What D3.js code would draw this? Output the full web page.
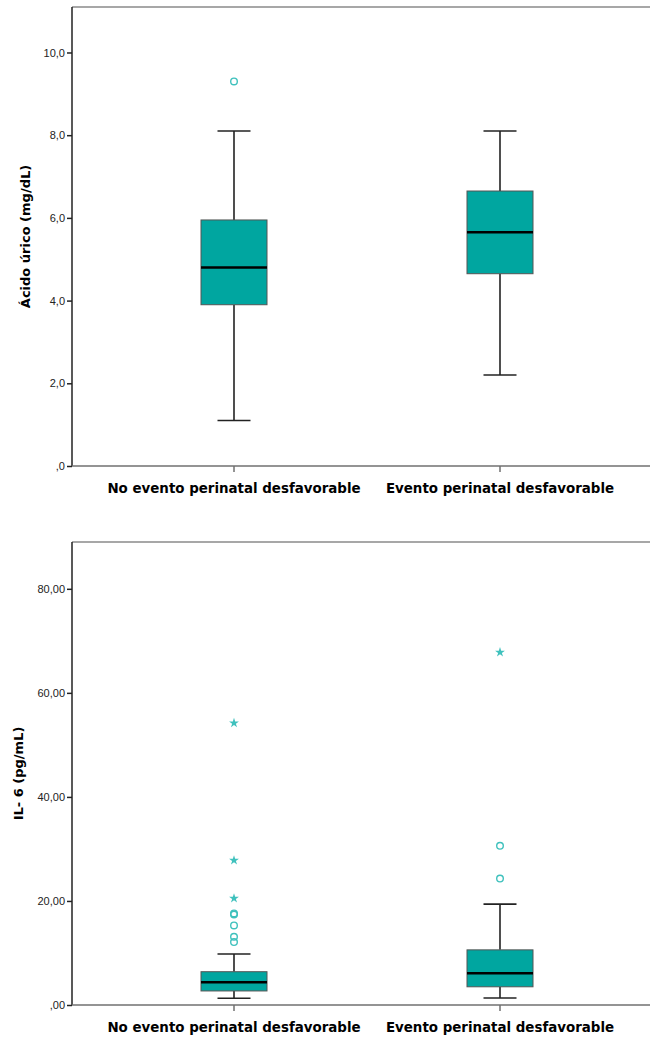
<!DOCTYPE html>
<html>
<head>
<meta charset="utf-8">
<script src="https://cdn.jsdelivr.net/npm/d3@7"></script>
<style>
  body { margin: 0; background: #fff; }
  svg { display: block; font-family: "Liberation Sans", Arial, sans-serif; }
  .tick-label { font-size: 11px; fill: #222; }
  .cat-label { font-family: "DejaVu Sans", Verdana, sans-serif; font-size: 13.4px; font-weight: bold; fill: #000; }
  .axis-title { font-family: "DejaVu Sans", Verdana, sans-serif; font-size: 13px; font-weight: bold; fill: #000; }
</style>
</head>
<body>
<svg id="chart" width="650" height="1037"></svg>
<script>
const categories = ["No evento perinatal desfavorable", "Evento perinatal desfavorable"];

// Ácido úrico (mg/dL): [lowWhisker, q1, median, q3, highWhisker]
const uricStats = [
  [1.1, 3.9, 4.8, 5.95, 8.1],
  [2.2, 4.65, 5.65, 6.65, 8.1]
];
const uricOutliers = [[9.3], []];
const uricExtremes = [[], []];
const uricTicks = [0, 2, 4, 6, 8, 10];
const uricTickLabels = [",0", "2,0", "4,0", "6,0", "8,0", "10,0"];

// IL-6 (pg/mL)
const il6Stats = [
  [1.3, 2.7, 4.35, 6.4, 9.8],
  [1.35, 3.5, 6.1, 10.6, 19.4]
];
const il6Outliers = [[17.4, 17.6, 15.3, 13.1, 12.1], [30.6, 24.3]];
const il6Extremes = [[54.2, 27.8, 20.5], [67.8]];
const il6Ticks = [0, 20, 40, 60, 80];
const il6TickLabels = [",00", "20,00", "40,00", "60,00", "80,00"];

const svg = d3.select("#chart");
const boxFill = "#00a6a0";
const pointColor = "#3fc1bd";

const panel = (cfg) => {
  const left = 72, right = 660;
  const g = svg.append("g");

  const yScale = d3.scaleLinear()
    .domain([0, cfg.yMax])
    .range([cfg.bottom, cfg.top]);

  // group centers
  const xScale = d3.scalePoint()
    .domain(categories)
    .range([234, 500]);

  // frame: top border
  g.append("line")
    .attr("x1", left).attr("x2", right)
    .attr("y1", cfg.top).attr("y2", cfg.top)
    .attr("stroke", "#8a8a8a").attr("stroke-width", 1.5);

  // y axis
  const yAxis = d3.axisLeft(yScale)
    .tickValues(cfg.ticks)
    .tickSize(5)
    .tickPadding(2)
    .tickFormat((d, i) => cfg.tickLabels[i]);
  const yAxisG = g.append("g")
    .attr("transform", `translate(${left},0)`)
    .call(yAxis);
  yAxisG.select(".domain").remove();
  yAxisG.selectAll(".tick line").attr("stroke", "#222").attr("stroke-width", 1.5);
  yAxisG.selectAll(".tick text").attr("class", "tick-label").attr("font-size", null).attr("font-family", null);
  g.append("line")
    .attr("x1", left).attr("x2", left)
    .attr("y1", cfg.top).attr("y2", cfg.bottom)
    .attr("stroke", "#222").attr("stroke-width", 1.5);

  // x axis baseline
  g.append("line")
    .attr("x1", left).attr("x2", right)
    .attr("y1", cfg.bottom).attr("y2", cfg.bottom)
    .attr("stroke", "#707070").attr("stroke-width", 1.5);

  categories.forEach((c, i) => {
    const x = xScale(c);
    g.append("line")
      .attr("x1", x).attr("x2", x)
      .attr("y1", cfg.bottom).attr("y2", cfg.bottom + 6)
      .attr("stroke", "#707070").attr("stroke-width", 1.5);
    g.append("text")
      .attr("class", "cat-label")
      .attr("x", x)
      .attr("y", cfg.bottom + 27)
      .attr("text-anchor", "middle")
      .text(c);

    const [lo, q1, med, q3, hi] = cfg.stats[i];
    const boxW = 66, capW = 33;
    // whiskers
    g.append("line")
      .attr("x1", x).attr("x2", x)
      .attr("y1", yScale(hi)).attr("y2", yScale(q3))
      .attr("stroke", "#222").attr("stroke-width", 1.6);
    g.append("line")
      .attr("x1", x).attr("x2", x)
      .attr("y1", yScale(q1)).attr("y2", yScale(lo))
      .attr("stroke", "#222").attr("stroke-width", 1.6);
    [lo, hi].forEach(v => {
      g.append("line")
        .attr("x1", x - capW / 2).attr("x2", x + capW / 2)
        .attr("y1", yScale(v)).attr("y2", yScale(v))
        .attr("stroke", "#222").attr("stroke-width", 1.6);
    });
    // box
    g.append("rect")
      .attr("x", x - boxW / 2)
      .attr("y", yScale(q3))
      .attr("width", boxW)
      .attr("height", yScale(q1) - yScale(q3))
      .attr("fill", boxFill)
      .attr("stroke", "#555").attr("stroke-width", 1);
    g.append("line")
      .attr("x1", x - boxW / 2).attr("x2", x + boxW / 2)
      .attr("y1", yScale(med)).attr("y2", yScale(med))
      .attr("stroke", "#000").attr("stroke-width", 2.5);

    // outliers
    g.selectAll(null)
      .data(cfg.outliers[i])
      .enter()
      .append("circle")
      .attr("cx", x)
      .attr("cy", d => yScale(d))
      .attr("r", 3.3)
      .attr("fill", "none")
      .attr("stroke", pointColor)
      .attr("stroke-width", 1.4);
    // extremes
    g.selectAll(null)
      .data(cfg.extremes[i])
      .enter()
      .append("path")
      .attr("transform", d => `translate(${x},${yScale(d)})`)
      .attr("d", d3.symbol().type(d3.symbolStar).size(30))
      .attr("fill", pointColor);
  });

  g.append("text")
    .attr("class", "axis-title")
    .attr("transform", "rotate(-90)")
    .attr("x", -(cfg.top + cfg.bottom) / 2)
    .attr("y", cfg.titleX)
    .attr("text-anchor", "middle")
    .text(cfg.title);
};

panel({
  top: 7, bottom: 466, yMax: 11.1,
  stats: uricStats, outliers: uricOutliers, extremes: uricExtremes,
  ticks: uricTicks, tickLabels: uricTickLabels,
  title: "Ácido úrico (mg/dL)", titleX: 30
});

panel({
  top: 542, bottom: 1005, yMax: 89,
  stats: il6Stats, outliers: il6Outliers, extremes: il6Extremes,
  ticks: il6Ticks, tickLabels: il6TickLabels,
  title: "IL- 6 (pg/mL)", titleX: 23
});
</script>
</body>
</html>
